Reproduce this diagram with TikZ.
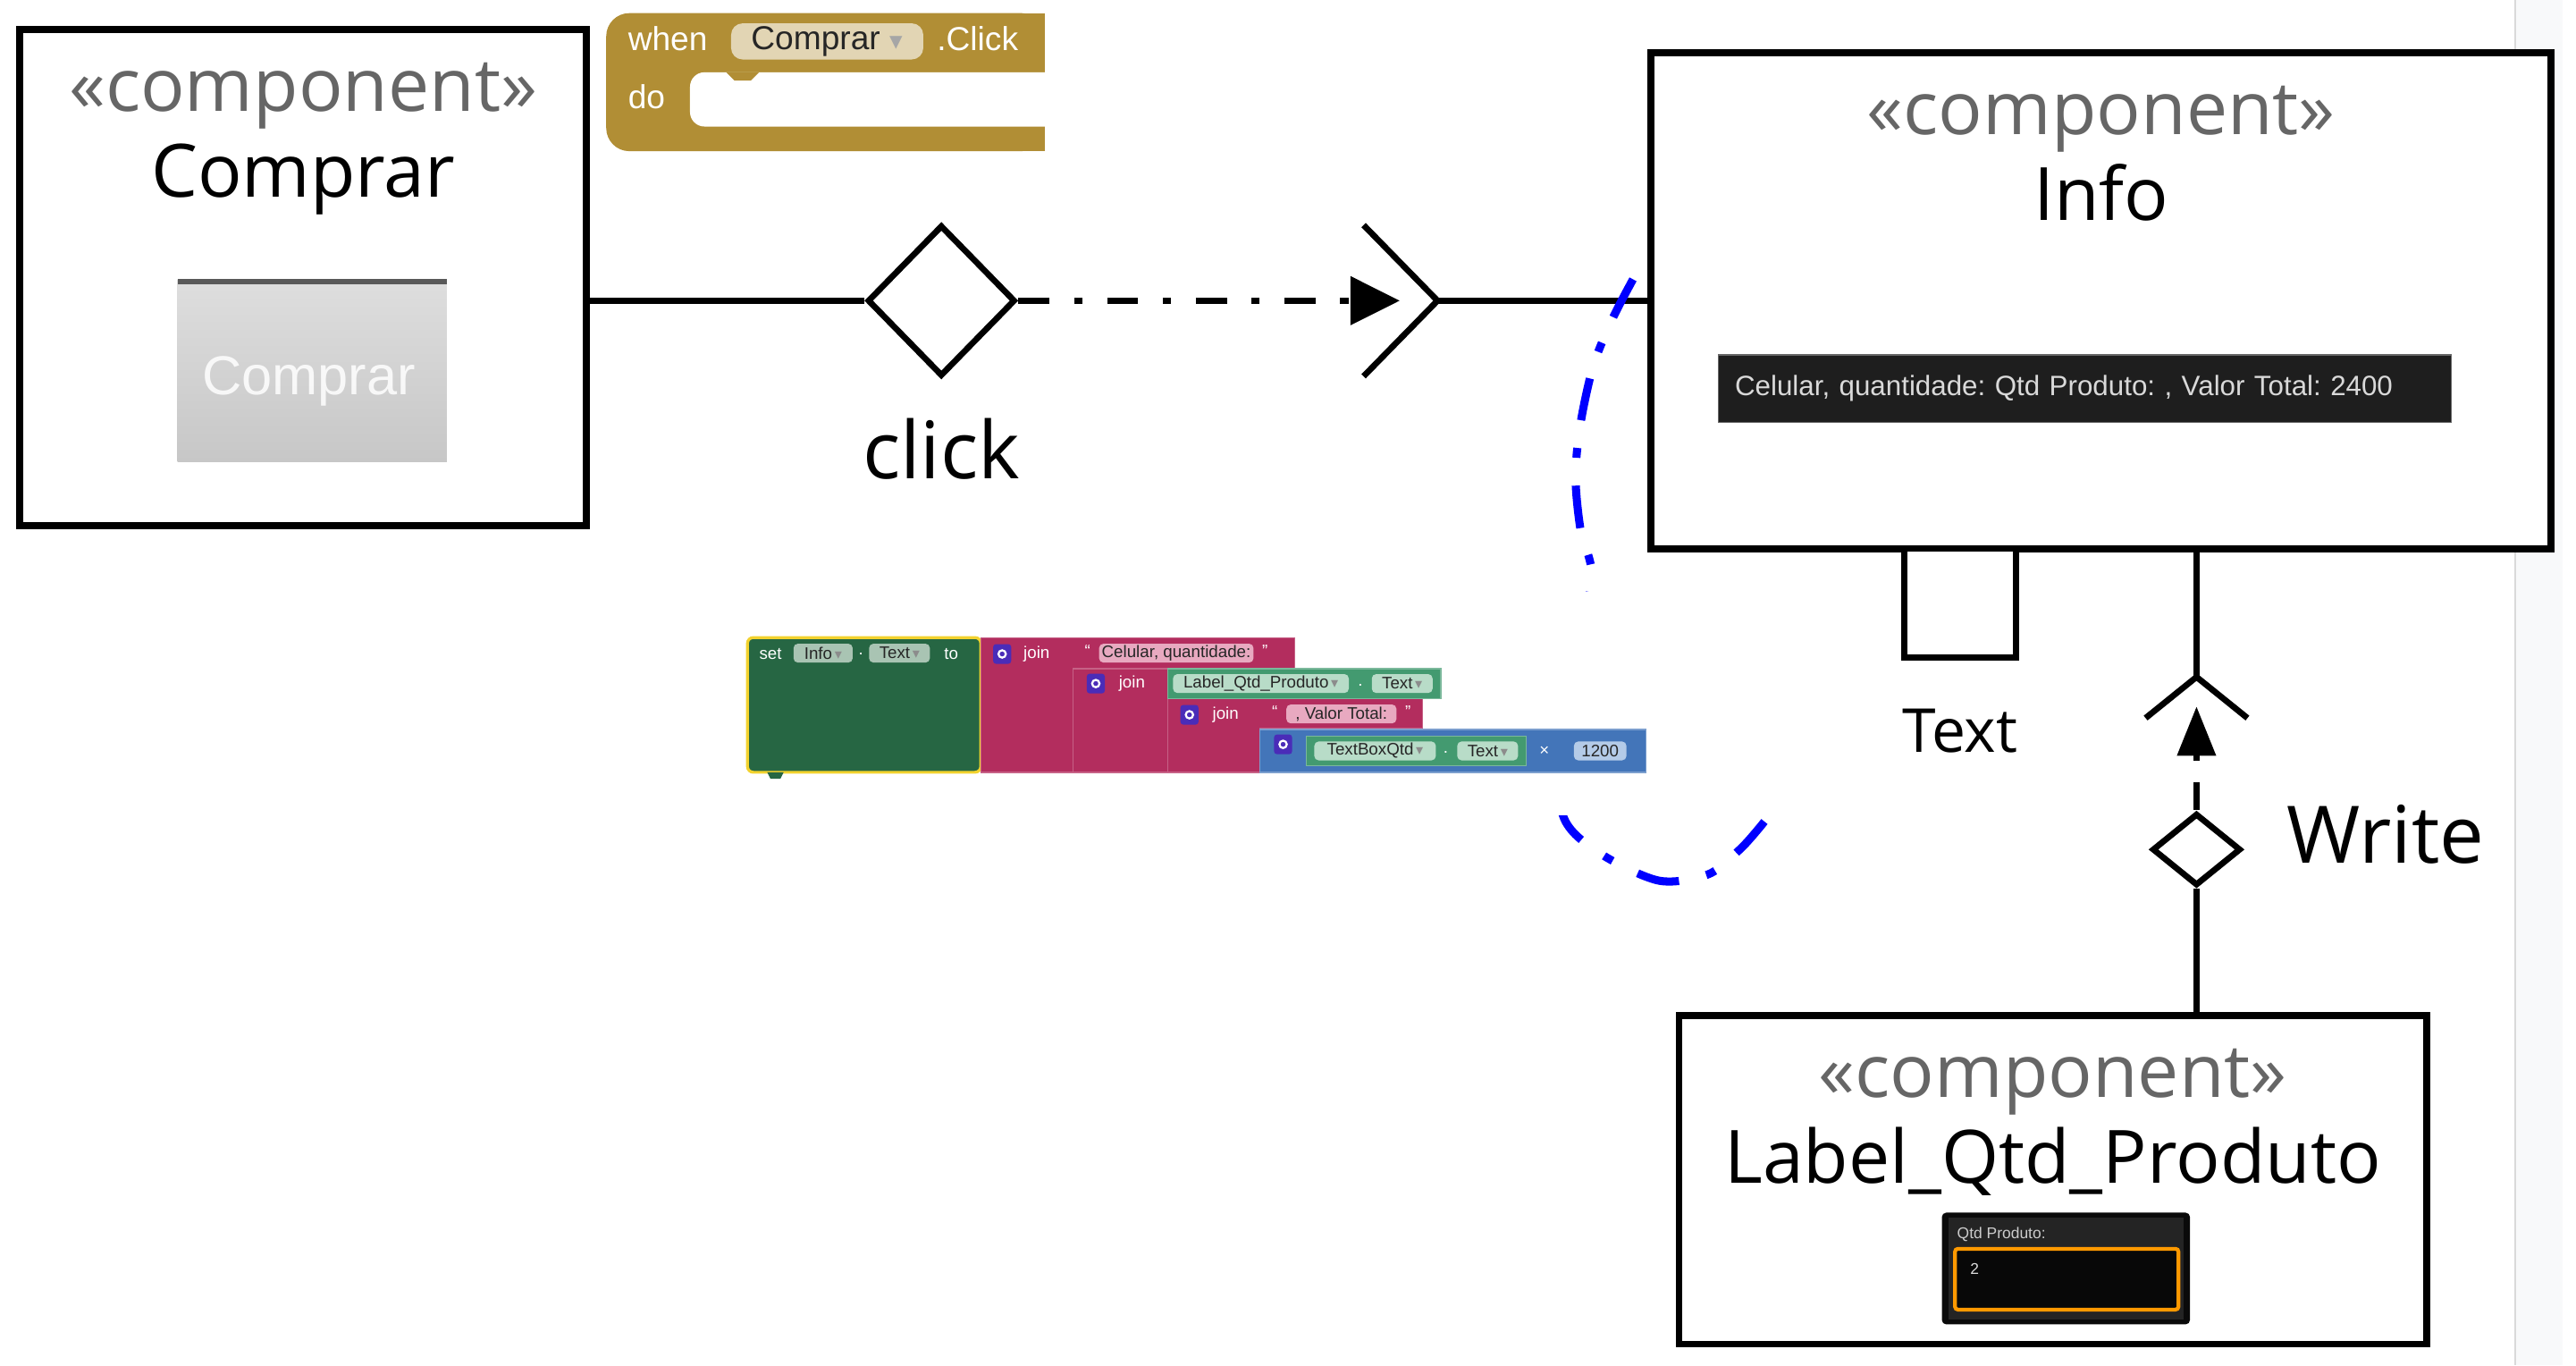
\documentclass[tikz,border=0pt]{standalone}
\usepackage{fontspec}
\setmainfont{Open Sans}
\newfontfamily\blkfont{Liberation Sans}
\newfontfamily\symfont{DejaVu Sans}
\usepackage{tikz}
\usetikzlibrary{arrows.meta,calc,positioning,shapes.geometric}
\definecolor{stgray}{HTML}{666666}
\definecolor{evgold}{HTML}{B18E35}
\definecolor{evpill}{HTML}{E2D5B4}
\definecolor{setgreen}{HTML}{266643}
\definecolor{setpill}{HTML}{A9C4B3}
\definecolor{selyellow}{HTML}{F2D22E}
\definecolor{joinred}{HTML}{B32D5E}
\definecolor{strpill}{HTML}{E8A9C0}
\definecolor{getgreen}{HTML}{439A70}
\definecolor{getpill}{HTML}{B8DCC8}
\definecolor{mathblue}{HTML}{4375B9}
\definecolor{numpill}{HTML}{B4CBE8}
\definecolor{gearblue}{HTML}{4A2CB8}
\definecolor{lblbg}{HTML}{1E1E1E}
\definecolor{strip}{HTML}{F8F9FA}
\newcommand{\dd}{{\symfont\fontsize{5}{5}\selectfont\,\textcolor{black!45}{▾}}}
\newcommand{\ddev}{{\symfont\fontsize{9}{9}\selectfont\,\textcolor{black!35}{▾}}}
\frenchspacing

\begin{document}
\begin{tikzpicture}[x=0.02cm,y=-0.02cm,
  compbox/.style={draw,line width=2.4pt,fill=white,inner sep=0pt},
  stereo/.style={text=stgray,font=\fontsize{25.5}{30}\selectfont},
  cname/.style={font=\fontsize{25.5}{30}\selectfont},
  lbl/.style={font=\fontsize{27.5}{32}\selectfont},
  link/.style={line width=2.1pt},
  flow/.style={link,dash pattern=on 0.38cm off 0.3cm on 0.1cm off 0.3cm},
  pill/.style={rounded corners=1.5pt,inner sep=0pt,minimum height=0.23cm,
    font=\blkfont\fontsize{5.8}{6}\selectfont,text=black!85},
  btxt/.style={text=white,inner sep=0pt,font=\blkfont\fontsize{5.8}{6}\selectfont},
  gear/.style={fill=gearblue,minimum width=0.22cm,minimum height=0.24cm,inner sep=0pt,
    rounded corners=1pt,path picture={\draw[white,line width=0.7pt]
      (path picture bounding box.center) circle (0.045cm);}}]
  \useasboundingbox (0,0) rectangle (1568,831);
  \fill[strip] (1531,0) rectangle (1560,831);
  \draw[black!15] (1531,0) -- (1531,831);

  % components
  \node[compbox,minimum width=6.9cm,minimum height=6.04cm] (comprar) at (184.5,169) {};
  \node[compbox,minimum width=10.96cm,minimum height=6.04cm] (info) at (1279,183) {};
  \node[compbox,minimum width=9.1cm,minimum height=4cm] (lqp) at (1249.5,718) {};
  \foreach \b/\nm in {comprar/Comprar,info/Info,lqp/Label\_Qtd\_Produto}{
    \node[stereo,anchor=base] (\b-st) at ([yshift=-1.04cm]\b.north) {«component»};
    \node[cname,anchor=base] (\b-nm) at ([yshift=-2.08cm]\b.north) {\nm};
  }

  % button preview
  \shade[top color=black!13,bottom color=black!22] (108,170) rectangle (272,281);
  \fill[black!65] (108,170) rectangle (272,173);
  \node[text=white,opacity=0.85,font=\blkfont\fontsize{19}{20}\selectfont] (btn) at (188,232) {Comprar};

  % label preview
  \node[fill=lblbg,draw=black!60,line width=0.4pt,minimum height=0.82cm,inner xsep=0.2cm,
    text width=8.52cm,align=left,text=black!15,font=\blkfont\fontsize{9.7}{11}\selectfont]
    (info-val) at (1269,236.5) {Celular, quantidade: Qtd Produto: , Valor Total: 2400};

  % textbox preview
  \fill[black!96,rounded corners=1.5pt] (1182,738) rectangle (1333,806);
  \fill[black!86] (1186,741) rectangle (1329,803);
  \filldraw[fill=black!97,draw=orange!80!yellow,line width=1.3pt,rounded corners=1pt]
    (1190,760) rectangle (1326,797);
  \node[anchor=west,inner sep=0pt,text=black!20,font=\blkfont\fontsize{5.4}{6}\selectfont]
    (qtd-lbl) at (1191,751) {Qtd Produto:};
  \node[anchor=west,inner sep=0pt,text=black!15,font=\blkfont\fontsize{5.4}{6}\selectfont]
    (qtd-val) at (1199,772) {2};

  % click port
  \node[draw,diamond,link,minimum width=1.8cm,minimum height=1.84cm,inner sep=0pt] (clk) at (573,183) {};
  \coordinate (clksock) at (875,183);
  \draw[link] (comprar.east |- clk.west) -- (clk.west);
  \draw[flow,-{Triangle[length=0.6cm,width=0.58cm]},shorten >=0.46cm] (clk.east) -- (clksock);
  \draw[link] (clksock) ++(-45,-46) -- (clksock) -- ++(-45,46);
  \draw[link] (clksock) -- (info.west);
  \node[lbl] (clk-lbl) at (573,273) {click};

  % Text port and Write link
  \node[draw,link,fill=white,minimum width=1.36cm,minimum height=1.32cm,inner sep=0pt] (txtport) at (1193,367) {};
  \node[font=\fontsize{21}{25}\selectfont] (txt-lbl) at (1193,445) {Text};
  \node[draw,diamond,link,fill=white,minimum width=1.08cm,minimum height=0.88cm,inner sep=0pt] (wr) at (1337,517) {};
  \coordinate (wsock) at (1337,412);
  \draw[link] (info.south -| wsock) -- (wsock);
  \draw[link] (wsock) ++(-31,25) -- (wsock) -- ++(31,25);
  \draw[link,dash pattern=on 0.34cm off 0.26cm on 1cm,-{Triangle[length=0.6cm,width=0.46cm]},
    shorten >=0.36cm] (wr.north) -- (wsock);
  \draw[link] (lqp.north -| wr.south) -- (wr.south);
  \node[lbl] (wr-lbl) at (1452,508) {Write};

  % blue loop
  \draw[blue,line width=2.8pt,dash pattern=on 0.52cm off 0.34cm on 0.12cm off 0.34cm]
    plot[smooth] coordinates {(994,170) (982,193) (970,222) (962,258) (959,290) (962,322)
      (969,352) (958,400) (946,450) (952,498) (975,520) (1010,536) (1040,532) (1060,516) (1074,500)};

  % when Comprar.Click
  \fill[evgold,rounded corners=8] (369,8) rectangle (636,92);
  \fill[evgold] (600,8) rectangle (636,92);
  \fill[white,rounded corners=5] (420,44) rectangle (645,77);
  \fill[evgold] (442,44) -- (447,49) -- (457,49) -- (462,44) -- cycle;
  \node[anchor=base west,inner sep=0pt,text=white,font=\blkfont\fontsize{11.5}{13}\selectfont] (ev-when) at (382,31) {when};
  \node[pill,fill=evpill,minimum width=2.34cm,minimum height=0.44cm,rounded corners=4pt,
    font=\blkfont\fontsize{11.5}{13}\selectfont] (ev-pill) at (503.5,25.2) {Comprar\,\ddev};
  \node[anchor=base west,inner sep=0pt,text=white,font=\blkfont\fontsize{11.5}{13}\selectfont] (ev-click) at (570,31) {.Click};
  \node[anchor=base west,inner sep=0pt,text=white,font=\blkfont\fontsize{11.5}{13}\selectfont] (ev-do) at (382,66) {do};

  % set Info.Text to join ...
  \fill[white] (452,360) rectangle (1004,496);
  \filldraw[fill=setgreen,draw=selyellow,line width=1pt,rounded corners=2pt] (455,388) rectangle (597,470);
  \fill[setgreen] (467,470) -- (469,474) -- (475,474) -- (477,470) -- cycle;
  \filldraw[fill=joinred,draw=joinred!75!white,line width=0.4pt]
    (597,388) -- (788,388) -- (788,407) -- (653,407) -- (653,470) -- (597,470) -- cycle;
  \filldraw[fill=joinred,draw=joinred!75!white,line width=0.4pt] (653,407) rectangle (711,470);
  \filldraw[fill=joinred,draw=joinred!75!white,line width=0.4pt]
    (711,425) -- (866,425) -- (866,443) -- (767,443) -- (767,470) -- (711,470) -- cycle;
  \filldraw[fill=getgreen,draw=getgreen!70!white,line width=0.4pt] (711,407) rectangle (877,425);
  \filldraw[fill=mathblue,draw=mathblue!70!white,line width=0.4pt] (767,444) rectangle (1002,470);
  \filldraw[fill=getgreen,draw=getgreen!70!white,line width=0.4pt] (795,448) rectangle (929,466);

  \node[btxt] (b-set) at (469,398) {set};
  \node[pill,fill=setpill,minimum width=0.72cm] (p-info) at (501,397.5) {Info\dd};
  \node[btxt] (b-dot1) at (524,398) {.};
  \node[pill,fill=setpill,minimum width=0.74cm] (p-text1) at (547.5,397.5) {Text\dd};
  \node[btxt] (b-to) at (579,398) {to};
  \node[gear] (g1) at (610,398) {};
  \node[btxt] (b-join1) at (631,398) {join};
  \node[btxt] (q1) at (662,396) {“};
  \node[pill,fill=strpill,minimum width=1.88cm] (p-cel) at (716,397.5) {Celular, quantidade:};
  \node[btxt] (q2) at (770,396) {”};
  \node[gear] (g2) at (667,416) {};
  \node[btxt] (b-join2) at (689,416) {join};
  \node[pill,fill=getpill,minimum width=2.14cm] (p-lqp) at (767.5,416) {Label\_Qtd\_Produto\dd};
  \node[btxt] (b-dot2) at (828,417) {.};
  \node[pill,fill=getpill,minimum width=0.74cm] (p-text2) at (853.5,416) {Text\dd};
  \node[gear] (g3) at (724,435) {};
  \node[btxt] (b-join3) at (746,435) {join};
  \node[btxt] (q3) at (776,433) {“};
  \node[pill,fill=strpill,minimum width=1.34cm] (p-valor) at (816.5,434.5) {, Valor Total:};
  \node[btxt] (q4) at (857,433) {”};
  \node[gear] (g4) at (781,453) {};
  \node[pill,fill=getpill,minimum width=1.48cm] (p-tbq) at (837,457) {TextBoxQtd\dd};
  \node[btxt] (b-dot3) at (880,458) {.};
  \node[pill,fill=getpill,minimum width=0.74cm] (p-text3) at (905.5,457) {Text\dd};
  \node[btxt] (b-times) at (940,457) {×};
  \node[pill,fill=numpill,minimum width=0.64cm] (p-num) at (974,457) {1200};
\end{tikzpicture}
\end{document}
